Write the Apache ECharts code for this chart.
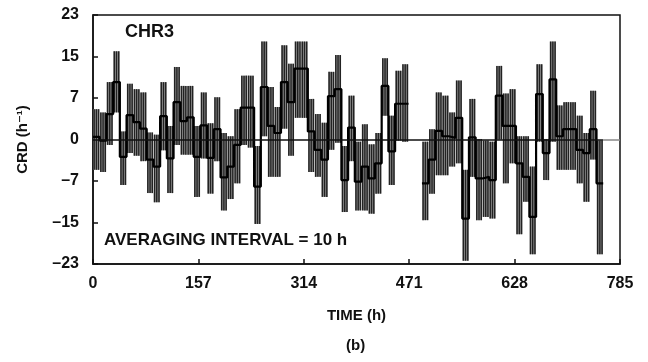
<!DOCTYPE html>
<html>
<head>
<meta charset="utf-8">
<script src="https://cdn.jsdelivr.net/npm/echarts@6/dist/echarts.min.js"></script>
<style>
  html, body { margin: 0; padding: 0; background: #fff; }
  #chart { width: 648px; height: 362px; }
</style>
</head>
<body>
<div id="chart"></div>
<script>
//  averaging interval (h)
const step = 10;
//  x ticks
const xTicks = [0, 157, 314, 471, 628, 785];
//  mean CRD per 10 h interval (null = no data)
const means = [
    0.5, -0.2, 4.7, 10.6, -3.2, 4.5, 3.2, 2.0, -3.7, -5.0,
    4.3, -3.5, 6.9, 3.4, 4.1, -3.2, 2.6, -3.4, 1.9, -7.0,
    -5.0, -1.0, 5.9, 5.9, -8.7, 9.7, 2.5, 1.2, 10.6, 6.9,
    13.1, 13.1, 1.5, -1.9, -3.7, 8.0, 9.3, -7.5, 2.2, -7.8,
    -5.0, -7.2, -4.4, 9.9, -2.2, 6.6, 6.6, null, null, -8.1,
    -3.7, 1.6, 0.6, 0.3, 4.0, -14.6, 0.4, -7.2, -6.9, -7.5,
    8.1, 2.5, 2.5, -4.4, -6.9, -14.3, 8.4, -2.5, 11.1, 0.6,
    1.9, 1.9, -1.9, -2.5, 1.9, -8.1
];
//  upper end of the bars
const highs = [
    5.6, 5.0, 10.6, 16.3, 1.5, 10.3, 9.3, 8.7, 1.3, 0.9,
    10.6, 2.5, 13.4, 9.9, 9.9, 2.5, 8.7, 3.0, 7.8, 1.2,
    0.6, 5.6, 11.8, 11.8, -1.2, 18.1, 9.7, 6.0, 17.4, 14.0,
    18.1, 18.1, 7.5, 4.7, 3.1, 12.5, 15.6, -1.2, 8.1, -0.4,
    2.8, -0.9, 1.2, 15.0, 4.4, 12.7, 13.9, null, null, -0.4,
    1.9, 8.7, 8.1, 5.0, 10.9, -5.6, 7.5, 0.1, -0.2, -0.4,
    13.6, 8.5, 9.3, 0.6, 0.6, -5.0, 13.9, 0.1, 18.1, 6.3,
    6.9, 6.9, 4.4, 1.2, 9.0, -0.2
];
//  lower end of the bars
const lows = [
    -5.6, -6.0, -1.0, 5.0, -8.4, -2.5, -3.0, -4.0, -9.9, -11.6,
    -2.0, -9.9, -1.0, -2.8, -2.8, -10.6, -3.5, -10.0, -4.0, -13.1,
    -11.0, -8.1, -1.0, -1.5, -15.6, 0.6, -6.9, -6.9, 2.0, -3.0,
    4.0, 4.0, -6.0, -6.9, -10.6, -1.9, -0.6, -13.4, -4.0, -13.1,
    -13.1, -13.7, -10.0, 4.4, -8.4, -0.2, -0.4, null, null, -14.9,
    -10.0, -6.6, -6.6, -5.0, -4.4, -22.4, -6.9, -14.9, -14.3, -14.6,
    0.0, -8.1, -4.4, -17.5, -11.5, -21.2, -0.4, -7.5, -0.4, -5.6,
    -5.6, -5.6, -8.1, -11.5, -3.7, -21.2
];

const font = 'Liberation Sans, DejaVu Sans, Arial, sans-serif';

//  bars: [start, end, low, high]
const barData = [];
means.forEach(function (m, k) {
    if (m === null) return;
    barData.push([k * step, (k + 1) * step, lows[k], highs[k]]);
});

//  step line of the means
const meanLine = [];
means.forEach(function (m, k) {
    if (m === null) {
        meanLine.push([k * step, null]);
        return;
    }
    meanLine.push([k * step, m]);
    meanLine.push([(k + 1) * step, m]);
});
const dataEnd = means.length * step;

function fmtY(v) {
    const r = Math.round(v * 1000) / 1000;
    const t = Math.trunc(Math.abs(r));
    if (t === 0) return '0';
    return (r < 0 ? '\u2013' : '') + t;
}

//  hatched block: a few thin vertical strokes
function renderBars(params, api) {
    const p0 = api.coord([api.value(0), api.value(3)]);
    const p1 = api.coord([api.value(1), api.value(2)]);
    const w = p1[0] - p0[0];
    const kids = [{
        type: 'rect',
        shape: {x: p0[0] + 0.3, y: p0[1], width: w - 0.6, height: p1[1] - p0[1]},
        style: {fill: '#a0a0a0'}
    }];
    [0.17, 0.5, 0.83].forEach(function (f) {
        const x = p0[0] + w * f;
        kids.push({
            type: 'line',
            shape: {x1: x, y1: p0[1], x2: x, y2: p1[1]},
            style: {stroke: '#222', lineWidth: 1.5}
        });
    });
    return {type: 'group', children: kids};
}

const myChart = echarts.init(document.getElementById('chart'));
myChart.setOption({
    animation: false,
    grid: {
        left: 93,
        right: 28,
        top: 15,
        bottom: 98,
        show: true,
        borderColor: '#111',
        borderWidth: 1.5,
    },
    xAxis: {
        type: 'value',
        min: xTicks[0],
        max: xTicks[xTicks.length - 1],
        interval: xTicks[1] - xTicks[0],
        name: 'TIME (h)',
        nameLocation: 'middle',
        nameGap: 44,
        nameTextStyle: {color: '#111', fontSize: 15, fontWeight: 'bold', fontFamily: font},
        axisLine: {show: true, onZero: false, lineStyle: {color: '#111', width: 1.5}},
        axisTick: {show: true, inside: true, length: 5, lineStyle: {color: '#111', width: 1.5}},
        axisLabel: {color: '#111', fontSize: 16, fontWeight: 'bold', fontFamily: font, margin: 12},
        splitLine: {show: false},
    },
    yAxis: {
        type: 'value',
        min: -23,
        max: 23,
        interval: 23 / 3,
        name: 'CRD (h\u207B\u00B9)',
        nameLocation: 'middle',
        nameRotate: 90,
        nameGap: 63,
        nameTextStyle: {color: '#111', fontSize: 15, fontWeight: 'bold', fontFamily: font},
        axisLine: {show: true, lineStyle: {color: '#111', width: 1.5}},
        axisTick: {show: true, inside: true, length: 5, lineStyle: {color: '#111', width: 1.5}},
        axisLabel: {color: '#111', fontSize: 16, fontWeight: 'bold', fontFamily: font, margin: 14, formatter: fmtY},
        splitLine: {show: false},
    },
    series: [
        {
            type: 'custom',
            renderItem: renderBars,
            encode: {x: [0, 1], y: [2, 3]},
            data: barData,
            z: 2,
        },
        {
            type: 'line',
            data: meanLine,
            showSymbol: false,
            connectNulls: false,
            lineStyle: {color: '#000', width: 2.2},
            z: 4,
            markLine: {
                silent: true,
                symbol: 'none',
                label: {show: false},
                data: [
                    [{coord: [0, 0], lineStyle: {color: '#111', width: 1.5, type: 'solid'}},
                        {coord: [dataEnd, 0]}],
                    [{coord: [dataEnd, 0], lineStyle: {color: '#888', width: 1.5, type: 'solid'}},
                        {coord: [xTicks[xTicks.length - 1], 0]}],
                ],
            },
        },
    ],
    graphic: [
        {
            type: 'text', left: 125, top: 23,
            style: {text: 'CHR3', fill: '#111', font: 'bold 18px ' + font}
        },
        {
            type: 'text', left: 104, top: 232,
            style: {text: 'AVERAGING INTERVAL = 10 h', fill: '#111', font: 'bold 17px ' + font}
        },
        {
            type: 'text', left: 346, top: 338,
            style: {text: '(b)', fill: '#111', font: 'bold 15px ' + font}
        },
    ],
});
</script>
</body>
</html>
